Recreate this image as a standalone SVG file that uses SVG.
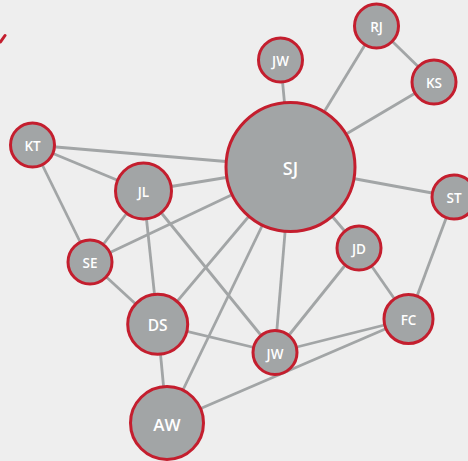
<svg xmlns="http://www.w3.org/2000/svg" width="468" height="461" viewBox="0 0 468 461">
<style>
.bg{fill:#eeeeee}
.e line{stroke:#a2a5a6;stroke-width:2.8;fill:none}
.n circle{fill:#a2a5a6;stroke:#c41e2e;stroke-width:3}
.n text{fill:#ffffff;font-family:"Open Sans","Liberation Sans",sans-serif;font-weight:600;text-anchor:middle;dominant-baseline:central}
</style>
<rect class="bg" x="0" y="0" width="468" height="461"/>
<line x1="5" y1="35.5" x2="0.5" y2="42" stroke="#c41e2e" stroke-width="3" stroke-linecap="round"/>
<g id="connectors" class="e">
<line x1="280.5" y1="60" x2="290.5" y2="167"/>
<line x1="376.5" y1="26" x2="290.5" y2="167"/>
<line x1="376.5" y1="26" x2="434" y2="82"/>
<line x1="434" y1="82" x2="290.5" y2="167"/>
<line x1="454" y1="197" x2="290.5" y2="167"/>
<line x1="454" y1="197" x2="408.5" y2="319"/>
<line x1="290.5" y1="167" x2="359" y2="248"/>
<line x1="359" y1="248" x2="408.5" y2="319"/>
<line x1="359" y1="248" x2="275" y2="352.5"/>
<line x1="290.5" y1="167" x2="275" y2="352.5"/>
<line x1="290.5" y1="167" x2="167" y2="423"/>
<line x1="290.5" y1="167" x2="157.7" y2="324.3"/>
<line x1="290.5" y1="167" x2="90" y2="262"/>
<line x1="290.5" y1="167" x2="143.5" y2="191"/>
<line x1="290.5" y1="167" x2="32.5" y2="145"/>
<line x1="32.5" y1="145" x2="143.5" y2="191"/>
<line x1="32.5" y1="145" x2="90" y2="262"/>
<line x1="143.5" y1="191" x2="90" y2="262"/>
<line x1="143.5" y1="191" x2="157.7" y2="324.3"/>
<line x1="143.5" y1="191" x2="275" y2="352.5"/>
<line x1="90" y1="262" x2="157.7" y2="324.3"/>
<line x1="157.7" y1="324.3" x2="275" y2="352.5"/>
<line x1="157.7" y1="324.3" x2="167" y2="423"/>
<line x1="275" y1="352.5" x2="408.5" y2="319"/>
<line x1="167" y1="423" x2="408.5" y2="319"/>
</g>
<g id="node-SJ" class="n"><circle cx="290.5" cy="167" r="64.5"/><text x="290.5" y="168" font-size="18">SJ</text></g>
<g id="node-JW-top" class="n"><circle cx="280.5" cy="60" r="22"/><text x="280.5" y="61" font-size="13.5">JW</text></g>
<g id="node-RJ" class="n"><circle cx="376.5" cy="26" r="22"/><text x="376.5" y="27" font-size="13.5">RJ</text></g>
<g id="node-KS" class="n"><circle cx="434" cy="82" r="22"/><text x="434" y="83" font-size="13.5">KS</text></g>
<g id="node-ST" class="n"><circle cx="454" cy="197" r="22"/><text x="454" y="198" font-size="13.5">ST</text></g>
<g id="node-JD" class="n"><circle cx="359" cy="248" r="22"/><text x="359" y="249" font-size="13.5">JD</text></g>
<g id="node-FC" class="n"><circle cx="408.5" cy="319" r="24.5"/><text x="408.5" y="320" font-size="13.5">FC</text></g>
<g id="node-KT" class="n"><circle cx="32.5" cy="145" r="22"/><text x="32.5" y="146" font-size="13.5">KT</text></g>
<g id="node-JL" class="n"><circle cx="143.5" cy="191" r="28"/><text x="143.5" y="192" font-size="13.5">JL</text></g>
<g id="node-SE" class="n"><circle cx="90" cy="262" r="22"/><text x="90" y="263" font-size="13.5">SE</text></g>
<g id="node-DS" class="n"><circle cx="157.7" cy="324.3" r="30"/><text x="157.7" y="325.3" font-size="15.5">DS</text></g>
<g id="node-JW-bottom" class="n"><circle cx="275" cy="352.5" r="22"/><text x="275" y="353.5" font-size="13.5">JW</text></g>
<g id="node-AW" class="n"><circle cx="167" cy="423" r="36.5"/><text x="167" y="424" font-size="17">AW</text></g>
</svg>
